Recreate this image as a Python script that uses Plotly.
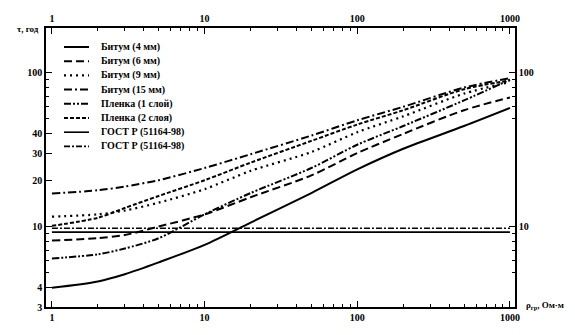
import math
import plotly.graph_objects as go

# ---- data ----
rho = [1, 2, 3, 5, 10, 20, 50, 100, 200, 500, 1000]
bitum4 = [4.0, 4.4, 4.9, 5.85, 7.6, 10.6, 16.5, 23.5, 32, 45, 59]
bitum6 = [8.1, 8.4, 8.8, 10.0, 12.0, 15.5, 21.5, 30, 40, 57, 69]
bitum9 = [11.6, 12.0, 12.7, 14.3, 17.5, 23, 30.5, 41, 52, 73, 87]
bitum15 = [16.4, 17.2, 18.2, 20, 24, 29.5, 39, 49, 60, 80, 92]
plenka1 = [6.2, 6.6, 7.2, 8.4, 12.0, 16.5, 24, 34, 45, 66, 90]
plenka2 = [10.1, 11.4, 13.2, 15.8, 20, 26, 36, 46, 57, 78, 89]
rho_gost = [1, 1000]
gost1 = [9.2, 9.2]
gost2 = [9.75, 9.75]

names = ["Битум (4 мм)", "Битум (6 мм)", "Битум (9 мм)", "Битум (15 мм)",
         "Пленка (1 слой)", "Пленка (2 слоя)", "ГОСТ Р (51164-98)", "ГОСТ Р (51164-98)"]
x_ticks = [1, 10, 100, 1000]
x_ticklabels = ["1", "10", "100", "1000"]
y_left_ticks = [3, 4, 10, 20, 30, 40, 100]
y_right_ticks = [10, 100]

series = [(rho, bitum4), (rho, bitum6), (rho, bitum9), (rho, bitum15),
          (rho, plenka1), (rho, plenka2), (rho_gost, gost1), (rho_gost, gost2)]
dashes = ["solid", "8px,4px", "2px,4px", "8px,3px,2px,3px",
          "7px,2px,2px,2px,2px,2px", "4px,2px", "solid", "6px,2px,2px,2px"]
widths = [2, 2, 2.2, 2, 2, 2, 1.6, 1.6]

FONT = "Liberation Serif"

fig = go.Figure()
for (xs, ys), nm, d, w in zip(series, names, dashes, widths):
    fig.add_trace(go.Scatter(x=xs, y=ys, mode="lines", name=nm,
                             line=dict(color="black", width=w, dash=d,
                                       shape="spline", smoothing=0.8),
                             showlegend=False))

# invisible trace for secondary axes
fig.add_trace(go.Scatter(x=[1, 1000], y=[10, 100], xaxis="x2", yaxis="y2",
                         mode="lines", line=dict(width=0), opacity=0,
                         showlegend=False, hoverinfo="skip"))

xr = [-0.039, 3.033]
yr = [math.log10(3), 2.29]

minor_x = [m * 10 ** e for e in range(0, 3) for m in range(2, 10)]
minor_y = [5, 6, 7, 8, 9, 50, 60, 70, 80, 90]

axis_common = dict(type="log", showgrid=False, zeroline=False, showline=True,
                   linecolor="black", linewidth=1.5, ticks="inside",
                   ticklen=6, tickwidth=1.3, tickcolor="black",
                   tickfont=dict(family=FONT, size=10, color="black", weight="bold"))

minor_common = dict(tickmode="array", ticks="inside", ticklen=3, tickwidth=1,
                    tickcolor="black")

fig.update_layout(
    width=575, height=335,
    margin=dict(l=46, r=60, t=28, b=28),
    paper_bgcolor="white", plot_bgcolor="white",
    font=dict(family=FONT, color="black"),
    xaxis=dict(range=xr, tickmode="array", tickvals=x_ticks, ticktext=x_ticklabels,
               minor=dict(tickvals=minor_x, **minor_common), **axis_common),
    xaxis2=dict(range=xr, overlaying="x", side="top", anchor="y",
                tickmode="array", tickvals=x_ticks, ticktext=x_ticklabels,
                minor=dict(tickvals=minor_x, **minor_common), **axis_common),
    yaxis=dict(range=yr, tickmode="array", tickvals=y_left_ticks,
               ticktext=[str(v) for v in y_left_ticks],
               minor=dict(tickvals=minor_y, **minor_common), **axis_common),
    yaxis2=dict(range=yr, overlaying="y", side="right", anchor="x",
                tickmode="array", tickvals=y_right_ticks,
                ticktext=[str(v) for v in y_right_ticks],
                minor=dict(tickvals=minor_y, **minor_common), **axis_common),
)

# custom legend (compact rows as in reference)
plot_l, plot_r, plot_t, plot_b = 46, 515, 28, 307
def px_x(p):
    return (p - plot_l) / (plot_r - plot_l)
def px_y(p):
    return (plot_b - p) / (plot_b - plot_t)

for i, (nm, d, w) in enumerate(zip(names, dashes, widths)):
    yy = 47 + i * 14.2
    fig.add_shape(type="line", xref="paper", yref="paper",
                  x0=px_x(64), x1=px_x(89), y0=px_y(yy), y1=px_y(yy),
                  line=dict(color="black", width=w, dash=d))
    fig.add_annotation(xref="paper", yref="paper", x=px_x(99), y=px_y(yy),
                       text=nm, showarrow=False, xanchor="left", yanchor="middle",
                       font=dict(family=FONT, size=10, color="black", weight="bold"))

# axis titles
fig.add_annotation(xref="paper", yref="paper", x=px_x(41), y=px_y(29),
                   text="τ, год", showarrow=False, xanchor="right", yanchor="middle",
                   font=dict(family=FONT, size=9, color="black", weight="bold"))
fig.add_annotation(xref="paper", yref="paper", x=px_x(524), y=px_y(305),
                   text="ρ<sub>гр</sub>, Ом·м", showarrow=False, xanchor="left",
                   yanchor="middle",
                   font=dict(family=FONT, size=9, color="black", weight="bold"))

fig.write_html("out.html")
